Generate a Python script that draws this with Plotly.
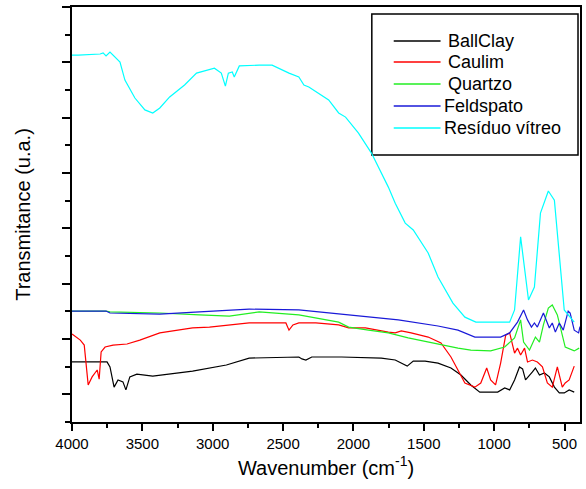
import plotly.graph_objects as go

# ---- data (wavenumber in cm-1, transmittance in arbitrary offset units) ----
wn_ballclay = [4000, 3850, 3751, 3730, 3701, 3673, 3638, 3617, 3589, 3539, 3426, 3256, 3143,
               2903, 2741, 2388, 2366, 2338, 2296, 2084, 1802, 1703, 1660, 1618, 1575, 1491,
               1399, 1307, 1236, 1166, 1102, 975, 925, 890, 855, 820, 798, 777, 728, 707, 678,
               643, 608, 572, 537, 502, 467, 431]
t_ballclay = [2.17, 2.17, 2.17, 1.99, 1.26, 1.52, 1.45, 1.16, 1.63, 1.73, 1.66, 1.77, 1.84,
              2.06, 2.31, 2.35, 2.28, 2.24, 2.35, 2.35, 2.31, 2.24, 2.13, 2.02, 2.20, 2.20,
              2.13, 1.95, 1.70, 1.34, 1.08, 1.08, 1.23, 1.16, 1.52, 1.99, 1.92, 1.52, 1.81, 1.95, 1.70,
              1.77, 1.63, 1.26, 1.05, 1.05, 1.16, 1.08]

wn_caulim = [4000, 3941, 3913, 3885, 3857, 3835, 3821, 3807, 3793, 3765, 3708, 3609, 3518, 3376,
             3143, 3023, 2741, 2480, 2458, 2430, 2388, 2267, 2105, 2034, 1915, 1752, 1703, 1660,
             1590, 1469, 1378, 1307, 1208, 1137, 1095, 1053, 1025, 990, 954, 918, 890, 855, 834,
             812, 784, 763, 728, 693, 657, 622, 587, 551, 516, 495, 467, 431]
t_caulim = [3.18, 2.96, 2.78, 1.34, 1.63, 1.77, 1.88, 1.55, 2.53, 2.71, 2.78, 2.82, 2.96, 3.22,
            3.40, 3.43, 3.58, 3.58, 3.32, 3.51, 3.58, 3.58, 3.51, 3.40, 3.40, 3.25, 3.22, 3.29,
            3.22, 3.07, 2.86, 2.35, 1.41, 1.26, 1.41, 1.95, 1.52, 1.34, 2.13, 3.14, 3.22, 2.49, 2.67,
            2.42, 2.67, 2.17, 2.24, 2.17, 1.99, 1.41, 1.26, 1.99, 1.26, 1.41, 1.52, 2.02]

wn_quartzo = [4000, 3758, 3730, 3376, 3094, 2882, 2670, 2388, 2105, 2034, 1893, 1752, 1611, 1469,
              1328, 1257, 1166, 1025, 925, 855, 812, 791, 749, 707, 678, 650, 615, 587, 551, 495,
              431, 396]
t_quartzo = [4.01, 4.01, 3.98, 3.94, 3.87, 3.83, 3.98, 3.87, 3.61, 3.43, 3.32, 3.22, 3.04, 2.89,
             2.75, 2.67, 2.60, 2.57, 2.71, 3.04, 3.69, 2.89, 2.60, 3.07, 2.89, 3.51, 4.12, 4.23, 3.87, 2.71,
             2.57, 2.67]

wn_feldspato = [4000, 3758, 3730, 3376, 3094, 2741, 2388, 2034, 1681, 1399, 1257, 1137, 954, 890,
                834, 791, 763, 735, 714, 693, 650, 608, 587, 565, 537, 509, 474, 460, 431, 400, 390]
t_feldspato = [4.01, 4.01, 3.94, 3.90, 3.98, 4.08, 4.05, 3.87, 3.69, 3.47, 3.32, 3.07, 3.07, 3.22,
               3.61, 4.05, 3.69, 3.43, 3.58, 3.43, 3.94, 3.40, 3.58, 3.25, 3.58, 3.32, 4.01, 3.94, 3.32, 3.22, 3.45]

wn_residuo = [4000, 3955, 3800, 3779, 3758, 3730, 3659, 3624, 3553, 3482, 3426, 3376, 3306, 3200,
              3115, 2988, 2939, 2910, 2889, 2861, 2847, 2811, 2670, 2578, 2458, 2388, 2352, 2317,
              2176, 2105, 2056, 1964, 1872, 1752, 1703, 1632, 1575, 1469, 1399, 1293, 1208, 1130,
              1000, 890, 855, 812, 756, 714, 671, 615, 572, 537, 502, 431]
t_residuo = [13.26, 13.26, 13.30, 13.34, 13.23, 13.37, 13.01, 12.36, 11.71, 11.28, 11.17, 11.35, 11.75,
             12.18, 12.61, 12.79, 12.61, 12.14, 12.61, 12.65, 12.47, 12.87, 12.90, 12.90, 12.61, 12.47,
             12.18, 12.11, 11.64, 11.17, 11.02, 10.44, 9.72, 8.49, 7.91, 7.19, 6.94, 6.11, 5.24, 4.30,
             3.79, 3.61, 3.61, 3.61, 4.05, 6.69, 4.41, 4.88, 7.55, 8.35, 8.02, 6.11, 4.05, 3.61]

series_names = ["BallClay", "Caulim", "Quartzo", "Feldspato", "Resíduo vítreo"]
series_x = [wn_ballclay, wn_caulim, wn_quartzo, wn_feldspato, wn_residuo]
series_y = [t_ballclay, t_caulim, t_quartzo, t_feldspato, t_residuo]
colors = ["#000000", "#ff0000", "#22ee22", "#1a1ad8", "#00ffff"]

fig = go.Figure()
for name, x, y, c in zip(series_names, series_x, series_y, colors):
    fig.add_trace(go.Scatter(x=x, y=y, mode="lines", name=name,
                             line=dict(color=c, width=1.2)))

W, H = 586, 489
L, R, T, B = 72, 4, 7, 67
pw, ph = W - L - R, H - T - B

def px(x):
    return (x - L) / pw

def py(y):
    return 1 - (y - T) / ph

# legend drawn as a boxed key (paper coordinates)
shapes = [dict(type="rect", xref="paper", yref="paper",
               x0=px(373), x1=px(580), y0=py(155), y1=py(14),
               line=dict(color="black", width=1.5), fillcolor="white", layer="below")]
annotations = []
row_y = [41, 62, 84, 106, 128]
text_x = [447, 447, 447, 443, 443]
for name, c, ry, tx in zip(series_names, colors, row_y, text_x):
    shapes.append(dict(type="line", xref="paper", yref="paper",
                       x0=px(395), x1=px(442), y0=py(ry), y1=py(ry),
                       line=dict(color=c, width=1.3)))
    annotations.append(dict(xref="paper", yref="paper", x=px(tx), y=py(ry),
                            xanchor="left", yanchor="middle", text=name, showarrow=False,
                            font=dict(size=18, color="black")))

fig.update_layout(
    width=W, height=H, autosize=False,
    margin=dict(l=L, r=R, t=T, b=B),
    plot_bgcolor="white", paper_bgcolor="white",
    font=dict(family="Liberation Sans, Arial, sans-serif", color="black", size=15),
    showlegend=False,
    shapes=shapes,
    annotations=annotations,
)

fig.update_xaxes(
    range=[4000, 390], showgrid=False, zeroline=False,
    showline=True, linecolor="black", linewidth=1.5, mirror=True,
    ticks="outside", ticklen=7, tickwidth=1.5, tickcolor="black",
    tick0=0, dtick=500, tickfont=dict(size=15),
    minor=dict(ticks="outside", ticklen=4, tickwidth=1.5, tickcolor="black", dtick=250, tick0=0),
    title=dict(text="Wavenumber (cm<sup>-1</sup>)", font=dict(size=20), standoff=10),
)
fig.update_yaxes(
    range=[0, 15], showgrid=False, zeroline=False,
    showline=True, linecolor="black", linewidth=1.5, mirror=True,
    ticks="outside", ticklen=8, tickwidth=1.5, tickcolor="black",
    tick0=1, dtick=2, showticklabels=False,
    minor=dict(ticks="outside", ticklen=5, tickwidth=1.5, tickcolor="black", dtick=1, tick0=0),
    title=dict(text="Transmitance (u.a.)", font=dict(size=20), standoff=26),
)

fig.write_html("out.html")
